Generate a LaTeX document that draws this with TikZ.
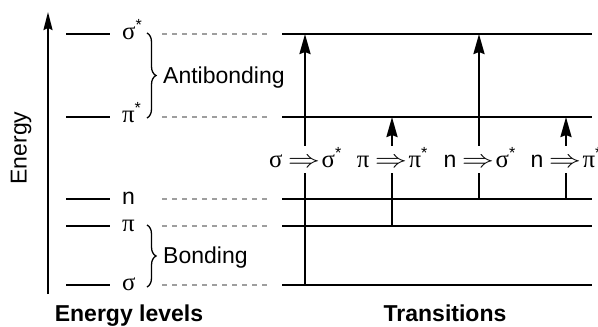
\documentclass[tikz,border=0pt]{standalone}
\usepackage{graphicx}
\usepackage{fontspec}
\setmainfont{Liberation Sans}
\newfontfamily\gr[Scale=1.08]{Liberation Serif}
\usetikzlibrary{arrows.meta,decorations.pathreplacing}
\newcommand{\dbl}{\scalebox{1.3}[1]{$\Rightarrow$}}
\begin{document}
\begin{tikzpicture}[x=1bp,y=-1bp,
  lvl/.style={line width=2.4bp},
  dsh/.style={line width=1.3bp, draw=black!38, dash pattern=on 5bp off 5bp},
  trans/.style={line width=2.4bp, -{Stealth[length=20bp,width=11bp,inset=2bp]}},
  axis/.style={line width=2bp, -{Stealth[length=18bp,width=9bp,inset=2bp]}},
  brc/.style={line width=1.3bp, decorate, decoration={brace,amplitude=9bp}},
  txt/.style={font=\fontsize{23bp}{28bp}\selectfont, inner sep=0pt},
  lab/.style={txt, anchor=base west},
  capt/.style={font=\fontsize{23bp}{28bp}\selectfont\bfseries, inner sep=0pt, anchor=base},
  tlab/.style={txt, fill=white, inner sep=1bp, anchor=base}
]
\useasboundingbox (0,0) rectangle (598,326);

% axis
\coordinate (ax0) at (48,294);
\coordinate (ax1) at (48,12);
\draw[axis] (ax0) -- (ax1);
\node[txt, rotate=90] (energy) at (21,148) {Energy};

% levels
\foreach \n/\y/\t in {ss/34/{{\gr σ}\textsuperscript{*}},
                      ps/117/{{\gr π}\textsuperscript{*}},
                      n/199/n,
                      p/226/{\gr π},
                      s/285/{\gr σ}}{
  \coordinate (\n a) at (66,\y);
  \coordinate (\n b) at (110,\y);
  \coordinate (\n c) at (162,\y);
  \coordinate (\n d) at (270,\y);
  \coordinate (\n e) at (282,\y);
  \coordinate (\n f) at (592,\y);
  \draw[lvl] (\n a) -- (\n b);
  \draw[dsh] (\n c) -- (\n d);
  \draw[lvl] (\n e) -- (\n f);
  \node[lab] (\n l) at (122,\y+5) {\t};
}

% braces
\coordinate (ab1) at (147,33);
\coordinate (ab2) at (147,118);
\coordinate (b1) at (147,225);
\coordinate (b2) at (147,287);
\draw[brc] (ab1) -- (ab2);
\draw[brc] (b1) -- (b2);
\node[lab] (anti) at (163,83) {Antibonding};
\node[lab] (bond) at (163,263) {Bonding};

% transitions
\coordinate (t1a) at (305,0 |- se);  \coordinate (t1b) at (305,0 |- sse);
\coordinate (t2a) at (392,0 |- pe);  \coordinate (t2b) at (392,0 |- pse);
\coordinate (t3a) at (479,0 |- ne);  \coordinate (t3b) at (479,0 |- sse);
\coordinate (t4a) at (566,0 |- ne);  \coordinate (t4b) at (566,0 |- pse);
\draw[trans] (t1a) -- (t1b);
\draw[trans] (t2a) -- (t2b);
\draw[trans] (t3a) -- (t3b);
\draw[trans] (t4a) -- (t4b);

\node[tlab] (T1) at (304,167) {\vphantom{Ag}\llap{{\gr σ}\hspace{5.5bp}}\dbl\rlap{\hspace{1.5bp}{\gr σ}\textsuperscript{*}}};
\node[tlab] (T2) at (391,167) {\vphantom{Ag}\llap{{\gr π}\hspace{5.5bp}}\dbl\rlap{\hspace{1.5bp}{\gr π}\textsuperscript{*}}};
\node[tlab] (T3) at (478,167) {\vphantom{Ag}\llap{n\hspace{5.5bp}}\dbl\rlap{\hspace{1.5bp}{\gr σ}\textsuperscript{*}}};
\node[tlab] (T4) at (565,167) {\vphantom{Ag}\llap{n\hspace{5.5bp}}\dbl\rlap{\hspace{1.5bp}{\gr π}\textsuperscript{*}}};

% captions
\node[capt] (cap1) at (129,321) {Energy levels};
\node[capt] (cap2) at (445,321) {Transitions};
\end{tikzpicture}
\end{document}
